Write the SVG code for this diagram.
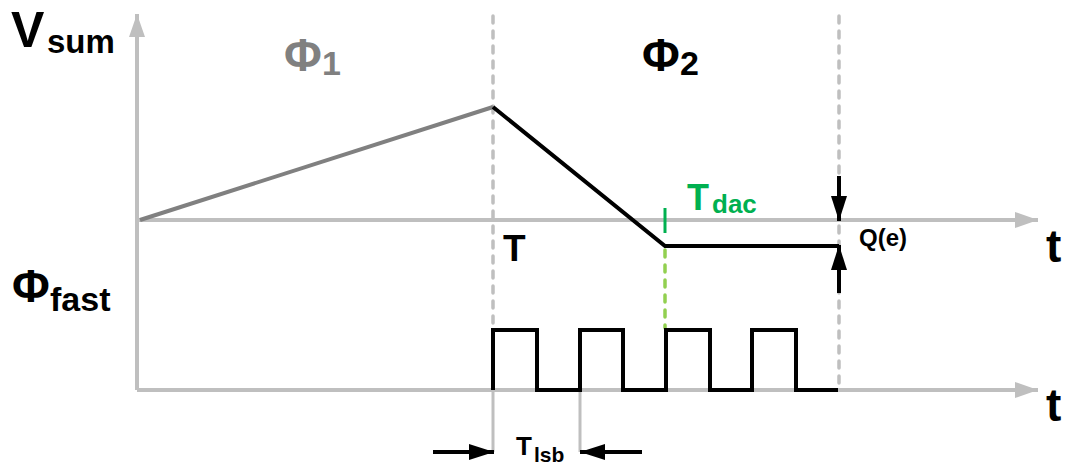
<svg xmlns="http://www.w3.org/2000/svg" width="1070" height="468" viewBox="0 0 1070 468">
<style>
text{font-family:"Liberation Sans",Arial,sans-serif;font-weight:bold;fill:#000}
.axis{stroke:#bfbfbf;stroke-width:4;fill:none}
.dash{stroke:#bfbfbf;stroke-width:3.5;fill:none;stroke-dasharray:7 8;stroke-linecap:round}
.trace{stroke:#000;stroke-width:4;fill:none;stroke-linejoin:miter}
.guide{stroke:#bfbfbf;stroke-width:3;fill:none}
.gray{fill:#808080}
.green{fill:#00b050}
</style>
<defs>
<marker id="ga" markerUnits="userSpaceOnUse" markerWidth="24" markerHeight="18" refX="23" refY="8" orient="auto" viewBox="0 0 24 16">
<path d="M0,0 L23,8 L0,16 z" fill="#bfbfbf"/>
</marker>
<marker id="ba" markerUnits="userSpaceOnUse" markerWidth="26" markerHeight="18" refX="25" refY="8" orient="auto" viewBox="0 0 26 16">
<path d="M0,0 L25,8 L0,16 z" fill="#000"/>
</marker>
</defs>
<g id="axes">
<line class="axis" x1="137" y1="390" x2="137" y2="14" marker-end="url(#ga)"/>
<line class="axis" x1="137" y1="220" x2="1038" y2="220" marker-end="url(#ga)"/>
<line class="axis" x1="137" y1="390" x2="1038" y2="390" marker-end="url(#ga)"/>
</g>
<g id="guides">
<line class="dash" x1="493" y1="16" x2="493" y2="388"/>
<line class="dash" x1="839" y1="16" x2="839" y2="388"/>
<line class="guide" x1="493" y1="390" x2="493" y2="452"/>
<line class="guide" x1="580" y1="390" x2="580" y2="452"/>
<line x1="665" y1="250" x2="665" y2="328" stroke="#92d050" stroke-width="3.5" stroke-dasharray="7 8" stroke-linecap="round"/>
<line x1="665" y1="208" x2="665" y2="233" stroke="#00b050" stroke-width="3"/>
</g>
<g id="vsum-trace">
<polyline points="140,220 493,107" stroke="#808080" stroke-width="4" fill="none"/>
<polyline class="trace" points="493,107 665,246 839,246"/>
</g>
<g id="phi-fast-trace">
<polyline class="trace" points="493,390 493,330 537,330 537,390 580,390 580,330 623,330 623,390 666,390 666,330 710,330 710,390 752,390 752,330 796,330 796,390 838,390"/>
</g>
<g id="connectors">
<line x1="839" y1="176" x2="839" y2="221" stroke="#000" stroke-width="4" marker-end="url(#ba)"/>
<line x1="839" y1="293" x2="839" y2="245" stroke="#000" stroke-width="4" marker-end="url(#ba)"/>
<line x1="433" y1="452" x2="494" y2="452" stroke="#000" stroke-width="4" marker-end="url(#ba)"/>
<line x1="642" y1="452" x2="580" y2="452" stroke="#000" stroke-width="4" marker-end="url(#ba)"/>
</g>
<g id="labels">
<text x="11" y="47" font-size="50">V<tspan x="47" y="53" font-size="33">sum</tspan></text>
<text x="284" y="71" font-size="46" class="gray">Φ<tspan x="322" y="75" font-size="34">1</tspan></text>
<text x="642" y="71" font-size="46">Φ<tspan x="680" y="75" font-size="34">2</tspan></text>
<text x="12" y="302" font-size="46">Φ<tspan x="50" y="311" font-size="34">fast</tspan></text>
<text x="503" y="261" font-size="37">T</text>
<text x="687" y="210" font-size="36" class="green">T<tspan x="712" y="213" font-size="26">dac</tspan></text>
<text x="859" y="246" font-size="24">Q(e)</text>
<text x="1046" y="262" font-size="46">t</text>
<text x="1046" y="421" font-size="46">t</text>
<text x="516" y="455" font-size="26">T<tspan x="534" y="462" font-size="21">lsb</tspan></text>
</g>
</svg>
